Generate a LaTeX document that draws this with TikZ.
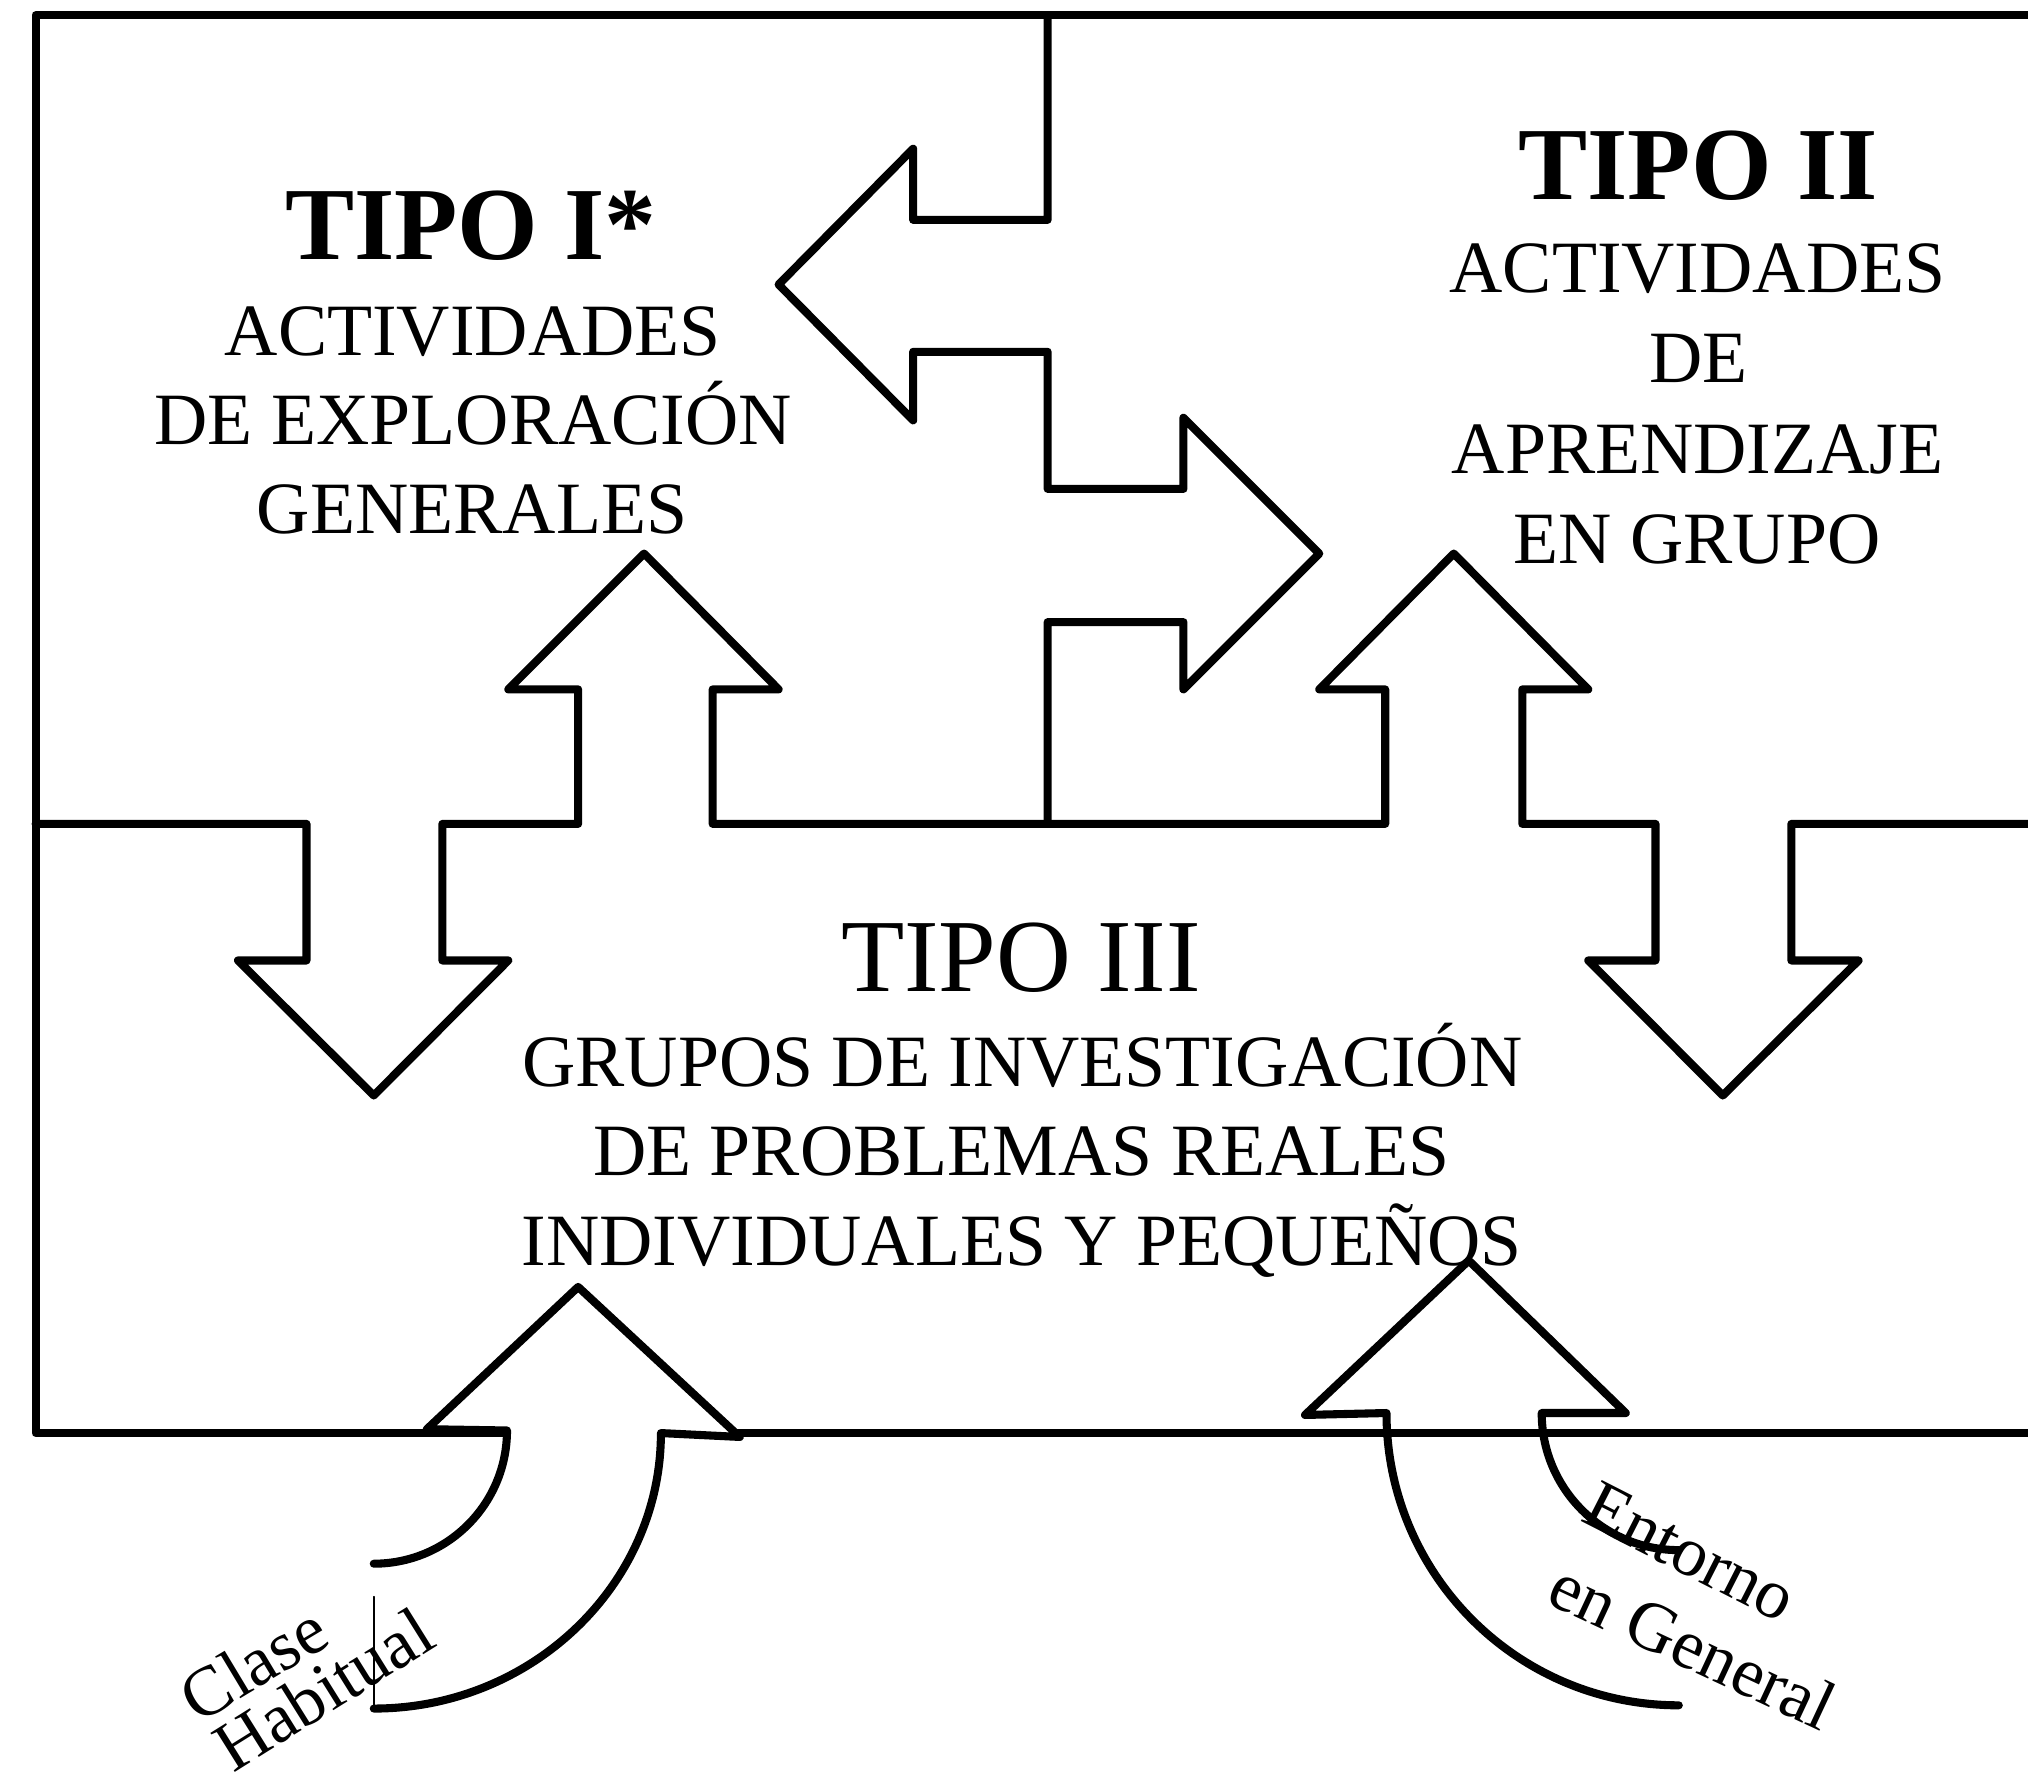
\documentclass[tikz,border=0pt]{standalone}
\usepackage{fontspec}
\setmainfont{Liberation Serif}
\begin{document}
\begin{tikzpicture}[x=0.012934cm, y=-0.012934cm,
  line join=round, line cap=round,
  outline/.style={draw=black, line width=2.3pt},
  tailline/.style={draw=black, line width=0.5pt},
  bodytxt/.style={font=\fontsize{21}{25}\selectfont, inner sep=0pt, anchor=base},
  titlebold/.style={font=\fontsize{29.5}{35}\selectfont\bfseries, inner sep=0pt, anchor=base},
  titlereg/.style={font=\fontsize{29.5}{35}\selectfont, inner sep=0pt, anchor=base},
  sidetxt/.style={font=\fontsize{20}{24}\selectfont, inner sep=0pt, anchor=center}]
\useasboundingbox (0,0) rectangle (1568,1373);

% outer frame (top, left, bottom)
\draw[outline] (1572,11.7) -- (27.5,11.7) -- (27.5,1108) -- (392,1108);
\draw[outline] (567,1108) -- (1572,1108);

% vertical divider with double arrow
\draw[outline] (810,11.7) -- (810,170) -- (706,170) -- (706,115) -- (602,220)
  -- (706,325) -- (706,272) -- (810,272) -- (810,378) -- (915,378) -- (915,323)
  -- (1020,428) -- (915,533) -- (915,481) -- (810,481) -- (810,637);

% horizontal divider with up / down arrows
\draw[outline] (27.5,637) -- (237,637) -- (237,742.6) -- (184,742.6) -- (289,847)
  -- (393,742.6) -- (342,742.6) -- (342,637) -- (447,637) -- (447,533) -- (393,533)
  -- (498,428) -- (602,533) -- (551,533) -- (551,637) -- (1071,637) -- (1071,533)
  -- (1020,533) -- (1124,428) -- (1228,533) -- (1177,533) -- (1177,637) -- (1280,637)
  -- (1280,742.6) -- (1228,742.6) -- (1332,847) -- (1437,742.6) -- (1385,742.6)
  -- (1385,637) -- (1572,637);

% curved arrow "Clase Habitual"
\draw[outline] (289,1209) .. controls (345.9,1209) and (392,1162.9) .. (392,1106)
  -- (330,1105) -- (447,995) -- (572,1111) -- (511,1108)
  .. controls (511,1224.7) and (411.6,1321) .. (289,1321);
\draw[tailline] (289,1234.5) -- (289,1321);

% curved arrow "Entorno en General"
\draw[outline] (1298,1198.5) .. controls (1239.5,1198.5) and (1192,1151) .. (1192,1092.5)
  -- (1257,1092.5) -- (1135.6,974.6) -- (1009,1094) -- (1072,1092.5)
  .. controls (1072,1217.3) and (1173.2,1318.5) .. (1298,1318.5);

% TIPO I
\node[titlebold] (t1) at (364,200.6) {TIPO I*};
\node[bodytxt] (t1a) at (365.5,274.5) {ACTIVIDADES};
\node[bodytxt] (t1b) at (366,343.7) {DE EXPLORACIÓN};
\node[bodytxt] (t1c) at (365,412.8) {GENERALES};

% TIPO II
\node[titlebold] (t2) at (1313,154.2) {TIPO II};
\node[bodytxt] (t2a) at (1312.5,226.3) {ACTIVIDADES};
\node[bodytxt] (t2b) at (1313,295.5) {DE};
\node[bodytxt] (t2c) at (1312.6,365.9) {APRENDIZAJE};
\node[bodytxt] (t2d) at (1312,435.9) {EN GRUPO};

% TIPO III
\node[titlereg] (t3) at (789.4,766.7) {TIPO III};
\node[bodytxt] (t3a) at (790.5,839.9) {GRUPOS DE INVESTIGACIÓN};
\node[bodytxt] (t3b) at (789.8,908.7) {DE PROBLEMAS REALES};
\node[bodytxt] (t3c) at (790,978.4) {INDIVIDUALES Y PEQUEÑOS};

% side labels
\node[sidetxt, rotate=31] (c1) at (196,1286) {Clase};
\node[sidetxt, rotate=32] (c2) at (250,1306) {Habitual};
\node[sidetxt, rotate=-27] (e1) at (1307,1200) {Entorno};
\node[sidetxt, rotate=-25] (e2) at (1309,1272) {en General};
\end{tikzpicture}
\end{document}
